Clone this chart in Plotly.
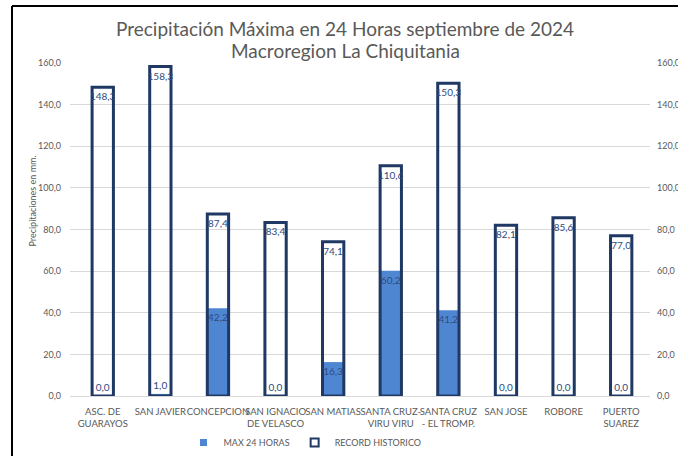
import plotly.graph_objects as go

categories = ["ASC. DE<br>GUARAYOS", "SAN JAVIER", "CONCEPCION", "SAN IGNACIO<br>DE VELASCO",
              "SAN MATIAS", "SANTA CRUZ-<br>VIRU VIRU", "SANTA CRUZ<br>- EL TROMP.", "SAN JOSE",
              "ROBORE", "PUERTO<br>SUAREZ"]
max_24h = [0.0, 1.0, 42.2, 0.0, 16.3, 60.2, 41.2, 0.0, 0.0, 0.0]
record = [148.3, 158.3, 87.4, 83.4, 74.1, 110.6, 150.3, 82.1, 85.6, 77.0]
series_names = ["MAX 24 HORAS", "RECORD HISTORICO"]
title_lines = ["Precipitación Máxima en 24 Horas septiembre de 2024", "Macroregion La Chiquitania"]

FONT = "Lato"
GRAY = "#595959"
LABEL = "#2F4B7C"
NAVY = "#1F3864"
BLUE = "#4F86D2"

def fmt(v):
    return f"{v:.1f}".replace(".", ",")

max_pos = ["inside" if v > 5 else "outside" for v in max_24h]

fig = go.Figure()
fig.add_trace(go.Bar(
    x=categories, y=max_24h, name=series_names[0], showlegend=False,
    marker=dict(color=BLUE, line=dict(width=0)),
    width=0.37,
    text=[fmt(v) for v in max_24h], textposition=max_pos, textangle=0,
    insidetextanchor="end", constraintext="none",
    textfont=dict(color=LABEL, size=10, family=FONT),
    cliponaxis=False,
))
fig.add_trace(go.Bar(
    x=categories, y=record, name=series_names[1], showlegend=False,
    marker=dict(color="rgba(255,255,255,0)", line=dict(color=NAVY, width=3)),
    width=0.37,
    text=[fmt(v) for v in record], textposition="inside", textangle=0,
    insidetextanchor="end", constraintext="none",
    textfont=dict(color=LABEL, size=10, family=FONT),
    cliponaxis=False,
))
fig.add_trace(go.Scatter(x=[None], y=[None], mode="markers", name=series_names[0],
                         marker=dict(symbol="square", size=7, color=BLUE, line=dict(width=0))))
fig.add_trace(go.Scatter(x=[None], y=[None], mode="markers", name=series_names[1],
                         marker=dict(symbol="square", size=8, color="white",
                                     line=dict(color=NAVY, width=2))))

W, H = 678, 456
ml, mr, mt, mb = 70, 28, 63, 60
pw, ph = W - ml - mr, H - mt - mb

def px_x(x):
    return (x - ml) / pw

def px_y(y):
    return (H - mb - y) / ph

fig.update_layout(
    width=W, height=H,
    margin=dict(l=ml, r=mr, t=mt, b=mb, autoexpand=False),
    paper_bgcolor="white", plot_bgcolor="white",
    barmode="overlay",
    separators=",.",
    font=dict(family=FONT, color=GRAY, size=9),
    xaxis=dict(showgrid=False, showline=False, ticks="", tickfont=dict(size=9.5, color=GRAY),
               tickangle=0, ticklabelstandoff=8, automargin=False),
    yaxis=dict(range=[0, 160], dtick=20, tickformat=".1f", showgrid=True, gridcolor="#D9D9D9",
               gridwidth=1, zeroline=True, zerolinecolor="#D9D9D9", zerolinewidth=1,
               tickfont=dict(size=9, color=GRAY), ticks="", ticklabelstandoff=8, automargin=False),
    yaxis2=dict(range=[0, 160], dtick=20, tickformat=".1f", overlaying="y", side="right",
                showgrid=False, zeroline=False, tickfont=dict(size=9, color=GRAY),
                ticks="", showline=False, ticklabelstandoff=6, automargin=False),
    legend=dict(orientation="h", x=px_x(305), xanchor="center", y=px_y(428), yanchor="top",
                font=dict(size=9, color=GRAY), itemwidth=30, traceorder="normal",
                bgcolor="rgba(0,0,0,0)"),
    shapes=[
        dict(type="line", xref="paper", yref="paper", x0=px_x(12), x1=px_x(690),
             y0=px_y(6), y1=px_y(6), line=dict(color="black", width=2)),
        dict(type="line", xref="paper", yref="paper", x0=px_x(12), x1=px_x(12),
             y0=px_y(6), y1=px_y(470), line=dict(color="black", width=2)),
    ],
    annotations=[
        dict(text="Precipitaciones en mm.", textangle=-90, xref="paper", yref="paper",
             x=px_x(24), y=px_y(201), showarrow=False,
             font=dict(size=9, color=GRAY, family=FONT)),
        dict(text=title_lines[0], xref="paper", yref="paper", x=px_x(345), y=px_y(28),
             showarrow=False, xanchor="center", yanchor="middle",
             font=dict(size=19, color=GRAY, family=FONT)),
        dict(text=title_lines[1], xref="paper", yref="paper", x=px_x(345), y=px_y(51),
             showarrow=False, xanchor="center", yanchor="middle",
             font=dict(size=19, color=GRAY, family=FONT)),
    ],
)
fig.add_trace(go.Scatter(x=[categories[0]], y=[0], yaxis="y2", mode="markers",
                         marker=dict(opacity=0), showlegend=False, hoverinfo="skip"))

fig.write_html("out.html", config={"displayModeBar": False},
               post_script="document.body.style.margin='0';document.body.style.overflow='hidden';")
